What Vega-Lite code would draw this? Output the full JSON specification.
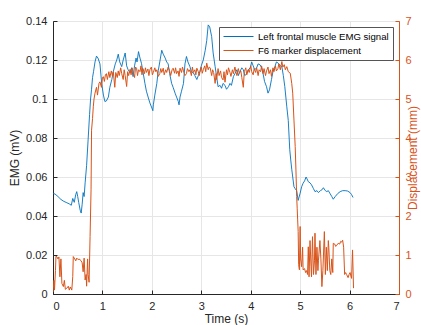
{
 "$schema": "https://vega.github.io/schema/vega-lite/v6.json",
 "width": 346,
 "height": 273,
 "autosize": {"type": "none"},
 "padding": {"left": 53, "top": 21, "right": 22, "bottom": 31},
 "background": "white",
 "config": {
  "font": "Liberation Sans",
  "view": {"stroke": "#8c8c8c", "strokeWidth": 1},
  "axis": {"titleFontWeight": "normal", "labelFontSize": 11, "titleFontSize": 12, "gridColor": "#e6e6e6", "gridOpacity": 1}
 },
 "datasets": {
  "emg": [
   {"t":0.00,"v":0.0515},{"t":0.04,"v":0.0513},{"t":0.10,"v":0.050},{"t":0.16,"v":0.0485},{"t":0.22,"v":0.0475},{"t":0.28,"v":0.0468},{"t":0.33,"v":0.0462},{"t":0.37,"v":0.0455},{"t":0.40,"v":0.049},{"t":0.43,"v":0.047},{"t":0.46,"v":0.051},{"t":0.48,"v":0.0525},{"t":0.50,"v":0.050},{"t":0.52,"v":0.047},{"t":0.55,"v":0.043},{"t":0.57,"v":0.0415},{"t":0.59,"v":0.046},{"t":0.61,"v":0.052},{"t":0.63,"v":0.050},{"t":0.65,"v":0.057},{"t":0.68,"v":0.066},{"t":0.71,"v":0.079},{"t":0.74,"v":0.092},{"t":0.76,"v":0.100},{"t":0.78,"v":0.105},{"t":0.80,"v":0.111},{"t":0.82,"v":0.114},{"t":0.85,"v":0.119},{"t":0.88,"v":0.122},{"t":0.91,"v":0.121},{"t":0.95,"v":0.118},{"t":0.985,"v":0.108},{"t":1.02,"v":0.102},{"t":1.05,"v":0.0987},{"t":1.08,"v":0.099},{"t":1.12,"v":0.101},{"t":1.15,"v":0.106},{"t":1.19,"v":0.110},{"t":1.22,"v":0.114},{"t":1.26,"v":0.118},{"t":1.29,"v":0.120},{"t":1.32,"v":0.123},{"t":1.35,"v":0.119},{"t":1.39,"v":0.1166},{"t":1.42,"v":0.120},{"t":1.46,"v":0.1236},{"t":1.49,"v":0.117},{"t":1.52,"v":0.115},{"t":1.56,"v":0.1134},{"t":1.59,"v":0.116},{"t":1.62,"v":0.1115},{"t":1.65,"v":0.117},{"t":1.68,"v":0.121},{"t":1.70,"v":0.119},{"t":1.73,"v":0.1243},{"t":1.76,"v":0.121},{"t":1.79,"v":0.1183},{"t":1.82,"v":0.114},{"t":1.86,"v":0.108},{"t":1.89,"v":0.104},{"t":1.93,"v":0.1005},{"t":1.96,"v":0.098},{"t":2.00,"v":0.0954},{"t":2.02,"v":0.094},{"t":2.03,"v":0.097},{"t":2.06,"v":0.102},{"t":2.10,"v":0.108},{"t":2.13,"v":0.1146},{"t":2.16,"v":0.119},{"t":2.20,"v":0.125},{"t":2.23,"v":0.123},{"t":2.27,"v":0.121},{"t":2.30,"v":0.119},{"t":2.33,"v":0.118},{"t":2.36,"v":0.113},{"t":2.40,"v":0.108},{"t":2.43,"v":0.106},{"t":2.47,"v":0.103},{"t":2.50,"v":0.101},{"t":2.535,"v":0.0987},{"t":2.55,"v":0.097},{"t":2.57,"v":0.101},{"t":2.60,"v":0.104},{"t":2.64,"v":0.108},{"t":2.67,"v":0.118},{"t":2.70,"v":0.1218},{"t":2.73,"v":0.119},{"t":2.77,"v":0.1166},{"t":2.80,"v":0.114},{"t":2.84,"v":0.1134},{"t":2.87,"v":0.112},{"t":2.91,"v":0.110},{"t":2.94,"v":0.112},{"t":2.97,"v":0.114},{"t":3.00,"v":0.117},{"t":3.04,"v":0.120},{"t":3.08,"v":0.125},{"t":3.11,"v":0.130},{"t":3.14,"v":0.138},{"t":3.17,"v":0.137},{"t":3.21,"v":0.132},{"t":3.24,"v":0.1236},{"t":3.28,"v":0.1166},{"t":3.31,"v":0.1115},{"t":3.34,"v":0.1063},{"t":3.38,"v":0.107},{"t":3.41,"v":0.1055},{"t":3.44,"v":0.108},{"t":3.48,"v":0.107},{"t":3.51,"v":0.105},{"t":3.55,"v":0.1063},{"t":3.58,"v":0.108},{"t":3.61,"v":0.107},{"t":3.65,"v":0.1115},{"t":3.68,"v":0.113},{"t":3.72,"v":0.115},{"t":3.75,"v":0.112},{"t":3.78,"v":0.114},{"t":3.82,"v":0.116},{"t":3.85,"v":0.115},{"t":3.88,"v":0.112},{"t":3.92,"v":0.113},{"t":3.95,"v":0.115},{"t":3.99,"v":0.116},{"t":4.02,"v":0.119},{"t":4.05,"v":0.117},{"t":4.08,"v":0.115},{"t":4.12,"v":0.116},{"t":4.15,"v":0.118},{"t":4.19,"v":0.1175},{"t":4.22,"v":0.116},{"t":4.25,"v":0.113},{"t":4.28,"v":0.109},{"t":4.32,"v":0.1063},{"t":4.35,"v":0.103},{"t":4.38,"v":0.1047},{"t":4.42,"v":0.110},{"t":4.45,"v":0.114},{"t":4.49,"v":0.1166},{"t":4.52,"v":0.119},{"t":4.56,"v":0.1183},{"t":4.60,"v":0.117},{"t":4.63,"v":0.1166},{"t":4.66,"v":0.112},{"t":4.69,"v":0.1063},{"t":4.73,"v":0.096},{"t":4.76,"v":0.089},{"t":4.79,"v":0.074},{"t":4.81,"v":0.0687},{"t":4.83,"v":0.064},{"t":4.85,"v":0.060},{"t":4.875,"v":0.055},{"t":4.90,"v":0.054},{"t":4.93,"v":0.053},{"t":4.96,"v":0.048},{"t":5.00,"v":0.0517},{"t":5.03,"v":0.055},{"t":5.06,"v":0.0568},{"t":5.09,"v":0.058},{"t":5.12,"v":0.060},{"t":5.14,"v":0.059},{"t":5.165,"v":0.0576},{"t":5.20,"v":0.057},{"t":5.23,"v":0.056},{"t":5.27,"v":0.054},{"t":5.30,"v":0.0525},{"t":5.34,"v":0.053},{"t":5.37,"v":0.052},{"t":5.41,"v":0.053},{"t":5.44,"v":0.0534},{"t":5.47,"v":0.0545},{"t":5.51,"v":0.053},{"t":5.54,"v":0.0525},{"t":5.57,"v":0.053},{"t":5.60,"v":0.0517},{"t":5.64,"v":0.050},{"t":5.67,"v":0.0486},{"t":5.71,"v":0.050},{"t":5.76,"v":0.0515},{"t":5.81,"v":0.0525},{"t":5.86,"v":0.053},{"t":5.91,"v":0.053},{"t":5.96,"v":0.0528},{"t":6.01,"v":0.052},{"t":6.04,"v":0.051},{"t":6.07,"v":0.0495}
  ],
  "disp": [
   {"t":0.00,"d":0.05},{"t":0.02,"d":0.35},{"t":0.03,"d":0.1},{"t":0.05,"d":0.6},{"t":0.06,"d":0.97},{"t":0.08,"d":0.95},{"t":0.10,"d":0.9},{"t":0.12,"d":0.95},{"t":0.14,"d":0.44},{"t":0.16,"d":0.9},{"t":0.18,"d":0.27},{"t":0.21,"d":0.19},{"t":0.23,"d":0.35},{"t":0.25,"d":0.12},{"t":0.28,"d":0.15},{"t":0.31,"d":0.2},{"t":0.33,"d":0.1},{"t":0.35,"d":0.18},{"t":0.38,"d":0.1},{"t":0.40,"d":0.45},{"t":0.41,"d":0.96},{"t":0.44,"d":0.9},{"t":0.46,"d":0.85},{"t":0.48,"d":0.92},{"t":0.51,"d":0.88},{"t":0.53,"d":0.9},{"t":0.55,"d":0.87},{"t":0.57,"d":0.85},{"t":0.59,"d":0.8},{"t":0.61,"d":0.57},{"t":0.63,"d":0.92},{"t":0.65,"d":0.36},{"t":0.67,"d":0.5},{"t":0.68,"d":0.2},{"t":0.70,"d":0.9},{"t":0.71,"d":0.5},{"t":0.73,"d":0.3},{"t":0.75,"d":1.47},{"t":0.77,"d":2.67},{"t":0.78,"d":4.2},{"t":0.80,"d":4.5},{"t":0.815,"d":4.8},{"t":0.83,"d":5.0},{"t":0.85,"d":5.15},{"t":0.88,"d":5.3},{"t":0.90,"d":5.1},{"t":0.93,"d":5.4},{"t":0.95,"d":5.44},{"t":0.98,"d":5.3},{"t":1.00,"d":5.55},{"t":1.02,"d":5.57},{"t":1.04,"d":5.45},{"t":1.06,"d":5.62},{"t":1.08,"d":5.65},{"t":1.10,"d":5.5},{"t":1.13,"d":5.7},{"t":1.15,"d":5.55},{"t":1.18,"d":5.72},{"t":1.20,"d":5.6},{"t":1.22,"d":5.7},{"t":1.25,"d":5.3},{"t":1.27,"d":5.68},{"t":1.30,"d":5.55},{"t":1.32,"d":5.72},{"t":1.34,"d":5.6},{"t":1.37,"d":5.8},{"t":1.39,"d":5.65},{"t":1.42,"d":5.5},{"t":1.44,"d":5.75},{"t":1.46,"d":5.6},{"t":1.49,"d":5.32},{"t":1.51,"d":5.7},{"t":1.53,"d":5.6},{"t":1.56,"d":5.76},{"t":1.58,"d":5.62},{"t":1.60,"d":5.8},{"t":1.62,"d":5.68},{"t":1.65,"d":5.55},{"t":1.67,"d":5.82},{"t":1.69,"d":5.79},{"t":1.71,"d":5.6},{"t":1.73,"d":5.75},{"t":1.76,"d":5.7},{"t":1.78,"d":5.85},{"t":1.80,"d":5.62},{"t":1.82,"d":5.78},{"t":1.85,"d":5.65},{"t":1.87,"d":5.8},{"t":1.89,"d":5.68},{"t":1.92,"d":5.77},{"t":1.94,"d":5.6},{"t":1.96,"d":5.75},{"t":1.99,"d":5.82},{"t":2.01,"d":5.62},{"t":2.03,"d":5.68},{"t":2.06,"d":5.8},{"t":2.08,"d":5.7},{"t":2.10,"d":5.75},{"t":2.13,"d":5.58},{"t":2.16,"d":5.65},{"t":2.18,"d":5.78},{"t":2.20,"d":5.68},{"t":2.23,"d":5.79},{"t":2.25,"d":5.62},{"t":2.28,"d":5.75},{"t":2.30,"d":5.68},{"t":2.33,"d":5.82},{"t":2.36,"d":5.72},{"t":2.38,"d":5.6},{"t":2.41,"d":5.75},{"t":2.43,"d":5.79},{"t":2.46,"d":5.66},{"t":2.48,"d":5.8},{"t":2.50,"d":5.65},{"t":2.53,"d":5.72},{"t":2.55,"d":5.58},{"t":2.57,"d":5.79},{"t":2.60,"d":5.68},{"t":2.62,"d":5.82},{"t":2.64,"d":5.72},{"t":2.67,"d":5.6},{"t":2.70,"d":5.65},{"t":2.72,"d":5.78},{"t":2.75,"d":5.7},{"t":2.77,"d":5.75},{"t":2.80,"d":5.6},{"t":2.82,"d":5.82},{"t":2.84,"d":5.68},{"t":2.87,"d":5.75},{"t":2.89,"d":5.62},{"t":2.91,"d":5.79},{"t":2.94,"d":5.7},{"t":2.96,"d":5.6},{"t":2.97,"d":5.68},{"t":3.00,"d":5.82},{"t":3.02,"d":5.66},{"t":3.04,"d":5.75},{"t":3.07,"d":5.85},{"t":3.09,"d":5.7},{"t":3.11,"d":5.92},{"t":3.14,"d":5.75},{"t":3.16,"d":5.82},{"t":3.18,"d":5.8},{"t":3.21,"d":5.6},{"t":3.23,"d":5.75},{"t":3.25,"d":5.68},{"t":3.28,"d":5.4},{"t":3.30,"d":5.65},{"t":3.31,"d":5.5},{"t":3.34,"d":5.78},{"t":3.36,"d":5.6},{"t":3.39,"d":5.72},{"t":3.41,"d":5.55},{"t":3.44,"d":5.49},{"t":3.46,"d":5.7},{"t":3.48,"d":5.43},{"t":3.51,"d":5.75},{"t":3.53,"d":5.62},{"t":3.55,"d":5.8},{"t":3.58,"d":5.68},{"t":3.60,"d":5.58},{"t":3.63,"d":5.75},{"t":3.65,"d":5.65},{"t":3.68,"d":5.82},{"t":3.70,"d":5.7},{"t":3.72,"d":5.6},{"t":3.75,"d":5.78},{"t":3.77,"d":5.66},{"t":3.80,"d":5.72},{"t":3.82,"d":5.55},{"t":3.85,"d":5.3},{"t":3.87,"d":5.7},{"t":3.90,"d":5.8},{"t":3.92,"d":5.62},{"t":3.95,"d":5.75},{"t":3.97,"d":5.68},{"t":4.00,"d":5.85},{"t":4.02,"d":5.7},{"t":4.05,"d":5.62},{"t":4.07,"d":5.78},{"t":4.10,"d":5.68},{"t":4.12,"d":5.8},{"t":4.15,"d":5.6},{"t":4.17,"d":5.75},{"t":4.20,"d":5.7},{"t":4.22,"d":5.85},{"t":4.25,"d":5.65},{"t":4.27,"d":5.78},{"t":4.30,"d":5.6},{"t":4.32,"d":5.72},{"t":4.35,"d":5.82},{"t":4.37,"d":5.65},{"t":4.40,"d":5.75},{"t":4.42,"d":5.58},{"t":4.45,"d":5.8},{"t":4.47,"d":5.7},{"t":4.50,"d":5.85},{"t":4.52,"d":5.72},{"t":4.55,"d":5.78},{"t":4.57,"d":5.9},{"t":4.60,"d":5.75},{"t":4.63,"d":5.96},{"t":4.65,"d":5.82},{"t":4.68,"d":5.88},{"t":4.70,"d":5.75},{"t":4.73,"d":5.83},{"t":4.76,"d":5.7},{"t":4.80,"d":5.66},{"t":4.83,"d":5.4},{"t":4.85,"d":5.15},{"t":4.875,"d":4.46},{"t":4.90,"d":3.78},{"t":4.915,"d":3.18},{"t":4.93,"d":2.5},{"t":4.94,"d":2.2},{"t":4.95,"d":1.9},{"t":4.96,"d":1.6},{"t":4.97,"d":0.75},{"t":4.985,"d":0.62},{"t":5.00,"d":1.73},{"t":5.01,"d":0.9},{"t":5.03,"d":0.7},{"t":5.05,"d":1.2},{"t":5.06,"d":0.62},{"t":5.09,"d":0.65},{"t":5.11,"d":0.55},{"t":5.13,"d":0.6},{"t":5.15,"d":0.5},{"t":5.165,"d":1.21},{"t":5.18,"d":0.44},{"t":5.20,"d":1.37},{"t":5.22,"d":0.7},{"t":5.23,"d":0.44},{"t":5.25,"d":1.47},{"t":5.27,"d":0.5},{"t":5.29,"d":0.85},{"t":5.30,"d":1.56},{"t":5.32,"d":0.5},{"t":5.34,"d":1.2},{"t":5.36,"d":0.6},{"t":5.37,"d":0.85},{"t":5.40,"d":1.37},{"t":5.42,"d":0.9},{"t":5.44,"d":0.19},{"t":5.46,"d":0.6},{"t":5.49,"d":1.6},{"t":5.51,"d":0.5},{"t":5.53,"d":1.2},{"t":5.55,"d":0.6},{"t":5.57,"d":1.37},{"t":5.58,"d":1.2},{"t":5.60,"d":0.6},{"t":5.62,"d":0.5},{"t":5.64,"d":0.9},{"t":5.66,"d":0.55},{"t":5.67,"d":1.3},{"t":5.70,"d":1.28},{"t":5.72,"d":1.22},{"t":5.74,"d":1.25},{"t":5.77,"d":1.3},{"t":5.80,"d":1.28},{"t":5.82,"d":1.35},{"t":5.84,"d":1.33},{"t":5.86,"d":1.38},{"t":5.88,"d":1.2},{"t":5.90,"d":0.5},{"t":5.92,"d":0.55},{"t":5.94,"d":0.5},{"t":5.97,"d":0.42},{"t":5.99,"d":0.5},{"t":6.01,"d":0.55},{"t":6.04,"d":0.4},{"t":6.06,"d":1.13},{"t":6.08,"d":0.15}
  ]
 },
 "layer": [
  {
   "data": {"name": "emg"},
   "mark": {"type": "line", "strokeWidth": 0.9, "clip": true},
   "encoding": {
    "x": {"field": "t", "type": "quantitative", "scale": {"domain": [0, 7], "nice": false},
     "axis": {"title": "Time (s)", "values": [0,1,2,3,4,5,6,7], "format": "d", "grid": true, "domainColor": "#262626", "tickColor": "#262626", "labelColor": "#262626", "titleColor": "#262626", "tickSize": -4, "labelPadding": 10, "titlePadding": 2}},
    "y": {"field": "v", "type": "quantitative", "scale": {"domain": [0, 0.14], "nice": false},
     "axis": {"title": "EMG (mV)", "values": [0,0.02,0.04,0.06,0.08,0.1,0.12,0.14], "format": "~g", "grid": true, "domainColor": "#262626", "tickColor": "#262626", "labelColor": "#262626", "titleColor": "#262626", "tickSize": -4, "labelPadding": 10, "titlePadding": 4}},
    "color": {"datum": "Left frontal muscle EMG signal", "type": "nominal",
     "scale": {"domain": ["Left frontal muscle EMG signal", "F6 marker displacement"], "range": ["#0072BD", "#D95319"]},
     "legend": {"orient": "none", "legendX": 166, "legendY": 6, "title": null, "direction": "vertical", "symbolType": "M-1,0H5", "symbolSize": 100, "symbolStrokeWidth": 1, "labelFontSize": 9.6, "labelColor": "#000000", "labelOffset": 24, "fillColor": "white", "strokeColor": "#555555", "padding": 4, "rowPadding": 3}}
   }
  },
  {
   "data": {"name": "disp"},
   "mark": {"type": "line", "strokeWidth": 1, "clip": true},
   "encoding": {
    "x": {"field": "t", "type": "quantitative"},
    "y": {"field": "d", "type": "quantitative", "scale": {"domain": [0, 7], "nice": false},
     "axis": {"orient": "right", "title": "Displacement (mm)", "titleAngle": 270, "values": [0,1,2,3,4,5,6,7], "format": "d", "grid": false, "domainColor": "#D95319", "tickColor": "#D95319", "labelColor": "#D95319", "titleColor": "#D95319", "tickSize": -4, "labelPadding": 10, "titlePadding": 8}},
    "color": {"datum": "F6 marker displacement", "type": "nominal"}
   }
  }
 ],
 "resolve": {"scale": {"y": "independent"}}
}
